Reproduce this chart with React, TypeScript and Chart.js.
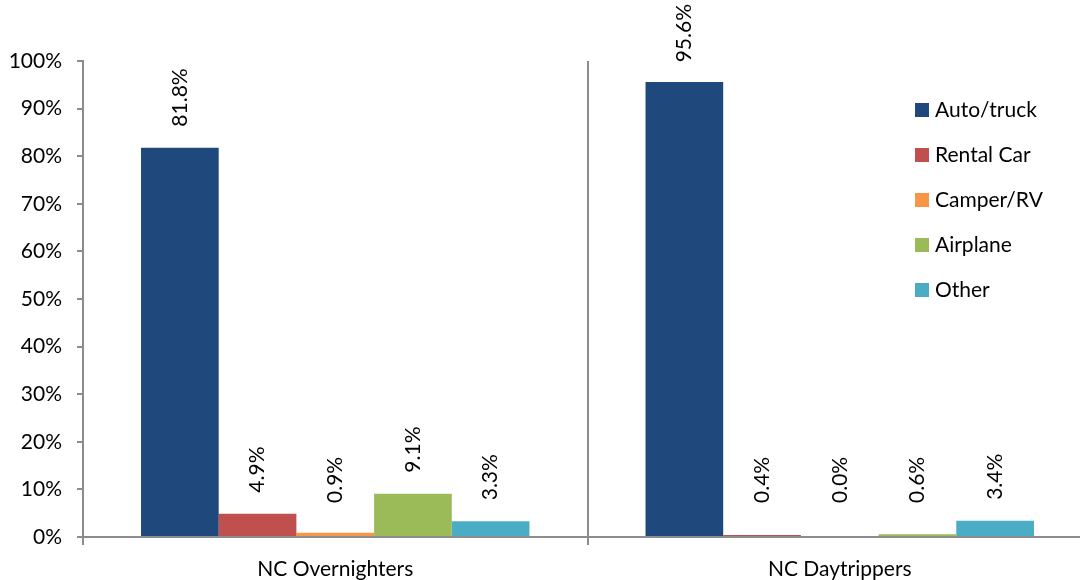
import React, { useEffect, useRef } from "react";
import { Chart, registerables } from "chart.js";

Chart.register(...registerables);

const categories = ["NC Overnighters", "NC Daytrippers"];
const seriesNames = ["Auto/truck", "Rental Car", "Camper/RV", "Airplane", "Other"];
const autoTruck = [81.8, 95.6];
const rentalCar = [4.9, 0.4];
const camperRV = [0.9, 0.0];
const airplane = [9.1, 0.6];
const other = [3.3, 3.4];
const seriesColors = ["#1F497D", "#C0504D", "#F79646", "#9BBB59", "#4BACC6"];
const yTicks = [0, 10, 20, 30, 40, 50, 60, 70, 80, 90, 100];

const FONT = "Lato, 'Open Sans', sans-serif";
const AXIS_COLOR = "#8C8C8C";

const dataLabelPlugin = {
  id: "dataLabels",
  afterDatasetsDraw(chart: any) {
    const ctx = chart.ctx;
    const base = chart.scales.y.getPixelForValue(0);
    ctx.save();
    ctx.font = `21px ${FONT}`;
    ctx.fillStyle = "#000";
    chart.data.datasets.forEach((ds: any, di: number) => {
      const meta = chart.getDatasetMeta(di);
      meta.data.forEach((bar: any, i: number) => {
        const v = ds.data[i];
        const label = v.toFixed(1) + "%";
        const w = ctx.measureText(label).width;
        let yb = Math.min(bar.y - 21, base - 34);
        if (yb - w < 4) yb = 4 + w;
        ctx.save();
        ctx.translate(bar.x, yb);
        ctx.rotate(-Math.PI / 2);
        ctx.textAlign = "left";
        ctx.textBaseline = "middle";
        ctx.fillText(label, 0, 0);
        ctx.restore();
      });
    });
    ctx.restore();
  },
};

const legendPlugin = {
  id: "customLegend",
  afterDraw(chart: any) {
    const ctx = chart.ctx;
    ctx.save();
    ctx.font = `21px ${FONT}`;
    ctx.textBaseline = "middle";
    ctx.textAlign = "left";
    chart.data.datasets.forEach((ds: any, i: number) => {
      const cy = 110 + i * 45;
      ctx.fillStyle = ds.backgroundColor;
      ctx.fillRect(915, cy - 7, 14, 14);
      ctx.fillStyle = "#000";
      ctx.fillText(ds.label, 935, cy);
    });
    ctx.restore();
  },
};

export default function App() {
  const ref = useRef<HTMLCanvasElement | null>(null);
  useEffect(() => {
    if (!ref.current) return;
    const values = [autoTruck, rentalCar, camperRV, airplane, other];
    const chart = new Chart(ref.current, {
      type: "bar",
      data: {
        labels: categories,
        datasets: seriesNames.map((name, i) => ({
          label: name,
          data: values[i],
          backgroundColor: seriesColors[i],
          borderWidth: 0,
          categoryPercentage: 0.77,
          barPercentage: 1,
        })),
      },
      options: {
        responsive: false,
        animation: false,
        layout: { padding: { top: 61, right: 8, left: 0, bottom: 0 } },
        plugins: { legend: { display: false }, tooltip: { enabled: false } },
        scales: {
          x: {
            afterFit: (s: any) => {
              s.height = 43;
            },
            grid: {
              offset: true,
              color: AXIS_COLOR,
              lineWidth: 2,
              tickLength: 8,
              drawOnChartArea: true,
            },
            border: { color: AXIS_COLOR, width: 2 },
            ticks: {
              color: "#000",
              font: { family: FONT, size: 21 },
              padding: 12,
            },
          },
          y: {
            min: 0,
            max: 100,
            afterFit: (s: any) => {
              s.width = 83;
            },
            afterBuildTicks: (s: any) => {
              s.ticks = yTicks.map((v) => ({ value: v }));
            },
            grid: {
              drawOnChartArea: false,
              color: AXIS_COLOR,
              lineWidth: 2,
              tickLength: 6,
            },
            border: { color: AXIS_COLOR, width: 2 },
            ticks: {
              color: "#000",
              font: { family: FONT, size: 21 },
              padding: 15,
              callback: (v: any) => v + "%",
            },
          },
        },
      },
      plugins: [dataLabelPlugin, legendPlugin],
    });
    return () => chart.destroy();
  }, []);
  return (
    <div
      style={{
        position: "absolute",
        left: 0,
        top: 0,
        width: 1080,
        height: 580,
        overflow: "hidden",
        background: "#fff",
      }}
    >
      <canvas ref={ref} width={1100} height={580} style={{ display: "block" }} />
    </div>
  );
}
